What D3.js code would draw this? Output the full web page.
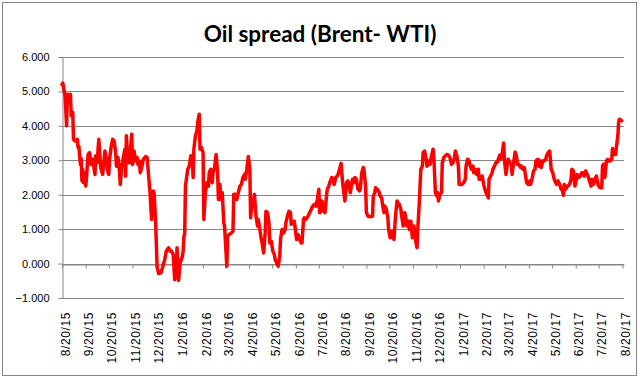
<!DOCTYPE html>
<html>
<head>
<meta charset="utf-8">
<script src="https://cdn.jsdelivr.net/npm/d3@7"></script>
<style>
  body { margin: 0; background: #fff; }
</style>
</head>
<body>
<div id="chart-area"></div>
<script>
// Brent - WTI spread
var dates = [
  "2015-08-20","2015-08-21","2015-08-24","2015-08-26","2015-08-27","2015-08-29","2015-08-31","2015-09-01","2015-09-03","2015-09-04",
  "2015-09-06","2015-09-09","2015-09-10","2015-09-11","2015-09-13","2015-09-14","2015-09-15","2015-09-16","2015-09-17","2015-09-18",
  "2015-09-20","2015-09-21","2015-09-23","2015-09-25","2015-09-27","2015-09-29","2015-09-30","2015-10-02","2015-10-03","2015-10-05",
  "2015-10-06","2015-10-07","2015-10-09","2015-10-10","2015-10-12","2015-10-14","2015-10-15","2015-10-17","2015-10-18","2015-10-20",
  "2015-10-21","2015-10-23","2015-10-25","2015-10-27","2015-10-29","2015-10-30","2015-11-01","2015-11-03","2015-11-04","2015-11-06",
  "2015-11-08","2015-11-10","2015-11-11","2015-11-12","2015-11-14","2015-11-15","2015-11-16","2015-11-18","2015-11-19","2015-11-20",
  "2015-11-22","2015-11-24","2015-11-26","2015-11-27","2015-11-29","2015-11-30","2015-12-02","2015-12-04","2015-12-07","2015-12-09",
  "2015-12-11","2015-12-13","2015-12-14","2015-12-15","2015-12-17","2015-12-18","2015-12-20","2015-12-21","2015-12-22","2015-12-24",
  "2015-12-27","2015-12-29","2016-01-01","2016-01-03","2016-01-06","2016-01-08","2016-01-10","2016-01-12","2016-01-14","2016-01-16",
  "2016-01-17","2016-01-19","2016-01-21","2016-01-24","2016-01-25","2016-01-26","2016-01-27","2016-01-28","2016-01-31","2016-02-02",
  "2016-02-04","2016-02-06","2016-02-07","2016-02-08","2016-02-10","2016-02-12","2016-02-13","2016-02-15","2016-02-16","2016-02-18",
  "2016-02-20","2016-02-21","2016-02-23","2016-02-25","2016-02-27","2016-02-28","2016-03-01","2016-03-03","2016-03-04","2016-03-06",
  "2016-03-08","2016-03-10","2016-03-11","2016-03-13","2016-03-14","2016-03-16","2016-03-18","2016-03-19","2016-03-22","2016-03-23",
  "2016-03-25","2016-03-28","2016-03-30","2016-03-31","2016-04-02","2016-04-04","2016-04-06","2016-04-08","2016-04-10","2016-04-12",
  "2016-04-14","2016-04-15","2016-04-17","2016-04-19","2016-04-21","2016-04-22","2016-04-24","2016-04-25","2016-04-27","2016-04-29",
  "2016-05-01","2016-05-02","2016-05-04","2016-05-06","2016-05-07","2016-05-09","2016-05-11","2016-05-12","2016-05-14","2016-05-16",
  "2016-05-17","2016-05-19","2016-05-21","2016-05-23","2016-05-24","2016-05-26","2016-05-28","2016-05-30","2016-05-31","2016-06-02",
  "2016-06-04","2016-06-06","2016-06-07","2016-06-09","2016-06-11","2016-06-13","2016-06-14","2016-06-16","2016-06-18","2016-06-21",
  "2016-06-23","2016-06-25","2016-06-27","2016-06-28","2016-06-30","2016-07-01","2016-07-03","2016-07-06","2016-07-08","2016-07-10",
  "2016-07-12","2016-07-14","2016-07-16","2016-07-18","2016-07-20","2016-07-21","2016-07-23","2016-07-24","2016-07-26","2016-07-28",
  "2016-07-30","2016-07-31","2016-08-02","2016-08-04","2016-08-06","2016-08-07","2016-08-09","2016-08-11","2016-08-13","2016-08-14",
  "2016-08-16","2016-08-18","2016-08-20","2016-08-21","2016-08-23","2016-08-25","2016-08-27","2016-08-28","2016-08-30","2016-09-01",
  "2016-09-02","2016-09-04","2016-09-05","2016-09-07","2016-09-09","2016-09-11","2016-09-12","2016-09-14","2016-09-16","2016-09-17",
  "2016-09-19","2016-09-20","2016-09-22","2016-09-24","2016-09-26","2016-09-28","2016-09-29","2016-10-01","2016-10-02","2016-10-04",
  "2016-10-06","2016-10-08","2016-10-10","2016-10-11","2016-10-13","2016-10-14","2016-10-16","2016-10-18","2016-10-19","2016-10-21",
  "2016-10-23","2016-10-24","2016-10-26","2016-10-28","2016-10-30","2016-10-31","2016-11-02","2016-11-04","2016-11-05","2016-11-07",
  "2016-11-09","2016-11-10","2016-11-12","2016-11-14","2016-11-15","2016-11-17","2016-11-19","2016-11-21","2016-11-23","2016-11-25",
  "2016-11-26","2016-11-28","2016-11-30","2016-12-02","2016-12-03","2016-12-05","2016-12-07","2016-12-08","2016-12-10","2016-12-12",
  "2016-12-14","2016-12-16","2016-12-17","2016-12-19","2016-12-21","2016-12-22","2016-12-23","2016-12-25","2016-12-27","2016-12-28",
  "2016-12-30","2017-01-01","2017-01-03","2017-01-05","2017-01-07","2017-01-09","2017-01-11","2017-01-13","2017-01-14","2017-01-16",
  "2017-01-18","2017-01-19","2017-01-21","2017-01-23","2017-01-25","2017-01-27","2017-01-28","2017-01-30","2017-02-01","2017-02-02",
  "2017-02-04","2017-02-06","2017-02-07","2017-02-09","2017-02-11","2017-02-13","2017-02-14","2017-02-16","2017-02-18","2017-02-20",
  "2017-02-21","2017-02-23","2017-02-25","2017-02-26","2017-02-27","2017-03-01","2017-03-03","2017-03-04","2017-03-06","2017-03-08",
  "2017-03-10","2017-03-11","2017-03-13","2017-03-14","2017-03-16","2017-03-18","2017-03-19","2017-03-21","2017-03-23","2017-03-24",
  "2017-03-26","2017-03-28","2017-03-29","2017-03-31","2017-04-02","2017-04-04","2017-04-05","2017-04-07","2017-04-09","2017-04-10",
  "2017-04-12","2017-04-14","2017-04-15","2017-04-17","2017-04-19","2017-04-21","2017-04-22","2017-04-24","2017-04-26","2017-04-28",
  "2017-04-29","2017-05-02","2017-05-03","2017-05-05","2017-05-06","2017-05-08","2017-05-10","2017-05-12","2017-05-13","2017-05-15",
  "2017-05-17","2017-05-18","2017-05-19","2017-05-21","2017-05-23","2017-05-25","2017-05-26","2017-05-28","2017-05-30","2017-06-01",
  "2017-06-02","2017-06-04","2017-06-05","2017-06-07","2017-06-09","2017-06-10","2017-06-12","2017-06-14","2017-06-15","2017-06-17",
  "2017-06-19","2017-06-21","2017-06-22","2017-06-24","2017-06-26","2017-06-28","2017-06-29","2017-07-01","2017-07-03","2017-07-04",
  "2017-07-06","2017-07-08","2017-07-10","2017-07-11","2017-07-13","2017-07-15","2017-07-17","2017-07-19","2017-07-20","2017-07-22",
  "2017-07-24","2017-07-25","2017-07-26","2017-07-28","2017-07-29","2017-07-30","2017-08-01","2017-08-02","2017-08-04","2017-08-06",
  "2017-08-07","2017-08-09","2017-08-11","2017-08-12","2017-08-14","2017-08-15","2017-08-16","2017-08-18","2017-08-19"
];

var spread = [
  5.20, 5.24, 4.87, 4.00, 4.92, 4.68, 4.92, 4.29, 4.39, 3.61,
  3.56, 3.61, 3.37, 3.40, 2.88, 3.05, 2.40, 2.74, 2.35, 2.64,
  2.25, 2.50, 3.17, 3.22, 2.88, 3.03, 2.88, 2.59, 3.13, 2.93,
  3.32, 3.61, 2.93, 2.74, 2.59, 3.03, 3.27, 3.03, 2.74, 2.59,
  3.03, 3.37, 3.61, 3.56, 3.22, 2.83, 3.08, 2.69, 2.30, 2.83,
  3.08, 3.32, 2.54, 3.71, 2.93, 3.22, 2.93, 3.51, 3.76, 2.88,
  3.27, 2.98, 3.08, 2.88, 2.98, 2.64, 2.79, 3.03, 3.11, 3.08,
  2.54, 2.01, 1.57, 1.28, 2.11, 2.06, 1.28, 0.60, -0.08, -0.29,
  -0.27, -0.13, 0.12, 0.36, 0.46, 0.36, 0.36, 0.26, -0.47, -0.17,
  0.46, -0.49, 0.02, 0.21, 0.36, 0.80, 0.84, 2.25, 2.74, 2.83,
  3.13, 3.03, 2.50, 3.32, 3.71, 3.85, 4.10, 4.34, 3.32, 3.37,
  3.22, 1.28, 2.06, 2.35, 2.25, 2.64, 2.74, 2.35, 2.64, 2.79,
  3.17, 2.64, 1.86, 2.30, 1.86, 2.06, 1.18, 1.09, -0.08, 0.80,
  0.84, 0.89, 0.94, 2.01, 2.01, 1.86, 2.06, 2.25, 2.30, 2.50,
  2.59, 2.45, 2.74, 3.11, 2.74, 1.33, 1.77, 1.67, 2.01, 1.38,
  1.09, 1.28, 0.99, 0.70, 0.60, 0.31, 0.89, 1.52, 1.48, 1.18,
  0.60, 0.65, 0.36, 0.26, 0.12, 0.02, -0.08, 0.21, 0.70, 0.99,
  0.89, 0.99, 1.18, 1.38, 1.52, 1.48, 1.14, 1.18, 1.23, 0.70,
  0.84, 0.70, 0.60, 0.60, 1.28, 1.33, 1.28, 1.38, 1.48, 1.57,
  1.67, 1.72, 1.67, 1.86, 2.16, 1.48, 1.52, 1.82, 1.57, 1.48,
  1.96, 2.16, 2.25, 2.40, 2.50, 2.45, 2.30, 2.50, 2.54, 2.59,
  2.74, 2.91, 2.35, 2.16, 1.82, 2.35, 2.40, 2.30, 2.06, 2.35,
  2.45, 2.35, 2.50, 2.45, 2.16, 2.11, 2.16, 2.64, 2.79, 2.69,
  2.25, 1.48, 1.38, 1.36, 1.36, 1.38, 1.96, 2.06, 2.20, 2.16,
  2.11, 1.96, 1.91, 1.72, 1.48, 1.67, 1.57, 1.33, 0.99, 0.75,
  0.94, 0.84, 0.70, 1.38, 1.82, 1.77, 1.72, 1.57, 1.38, 1.09,
  1.48, 1.38, 1.09, 1.23, 0.99, 1.23, 0.75, 1.09, 0.70, 0.46,
  0.99, 1.77, 2.74, 2.83, 3.22, 3.27, 3.03, 2.83, 2.98, 2.88,
  3.13, 3.32, 3.08, 2.06, 1.96, 2.06, 1.82, 2.01, 2.06, 2.93,
  3.08, 3.13, 3.17, 3.15, 3.08, 2.88, 2.93, 3.08, 3.27, 3.13,
  2.83, 2.30, 2.30, 2.30, 2.35, 2.45, 2.83, 3.03, 2.98, 2.88,
  2.74, 2.83, 2.64, 2.74, 2.59, 2.74, 2.45, 2.45, 2.54, 2.30,
  2.20, 2.06, 1.96, 1.91, 2.45, 2.54, 2.64, 2.74, 2.83, 2.93,
  2.95, 3.03, 3.15, 3.03, 3.17, 3.50, 3.03, 2.59, 2.93, 3.03,
  2.93, 2.88, 2.59, 2.93, 3.24, 3.08, 2.88, 2.88, 2.79, 2.83,
  2.74, 2.79, 2.64, 2.35, 2.30, 2.40, 2.30, 2.45, 2.69, 2.74,
  2.98, 3.03, 2.83, 2.98, 2.79, 2.98, 2.98, 3.03, 3.13, 3.22,
  3.27, 3.03, 2.74, 2.64, 2.45, 2.35, 2.30, 2.40, 2.30, 2.16,
  2.20, 1.98, 2.30, 2.16, 2.25, 2.25, 2.30, 2.45, 2.74, 2.69,
  2.25, 2.45, 2.59, 2.50, 2.54, 2.64, 2.64, 2.54, 2.69, 2.64,
  2.54, 2.40, 2.25, 2.45, 2.30, 2.45, 2.54, 2.30, 2.25, 2.20,
  2.20, 2.83, 2.88, 2.50, 2.74, 2.98, 3.03, 2.98, 2.98, 3.03,
  3.34, 3.17, 3.17, 3.37, 3.71, 4.10, 4.19, 4.17, 4.15
];

var tickLabels = ["8/20/15", "9/20/15", "10/20/15", "11/20/15", "12/20/15", "1/20/16", "2/20/16",
  "3/20/16", "4/20/16", "5/20/16", "6/20/16", "7/20/16", "8/20/16", "9/20/16", "10/20/16",
  "11/20/16", "12/20/16", "1/20/17", "2/20/17", "3/20/17", "4/20/17", "5/20/17", "6/20/17",
  "7/20/17", "8/20/17"];
var yTicks = [-1, 0, 1, 2, 3, 4, 5, 6];

var W = 640, H = 378;
var margin = { top: 57, left: 62 };
var width = 562;
var height = 241;
var gray = "#868686";

var parseDay = d3.timeParse("%Y-%m-%d");
var parseTick = d3.timeParse("%m/%d/%y");

var data = dates.map((d, i) => ({ date: parseDay(d), value: spread[i] }));
var tickDates = tickLabels.map(parseTick);

var svg = d3.select("#chart-area")
  .append("svg")
  .attr("width", W)
  .attr("height", H)
  .style("font-family", "'DejaVu Sans', Verdana, sans-serif");

svg.append("rect")
  .attr("x", 2.5).attr("y", 2.5)
  .attr("width", 634).attr("height", 373)
  .attr("fill", "#fff")
  .attr("stroke", gray);

svg.append("text")
  .attr("x", 320)
  .attr("y", 42)
  .attr("text-anchor", "middle")
  .style("font-family", "Lato, 'Open Sans', sans-serif")
  .style("font-weight", "bold")
  .style("font-size", "22.5px")
  .text("Oil spread (Brent- WTI)");

var g = svg.append("g")
  .attr("transform", "translate(" + margin.left + ", " + margin.top + ")");

var x = d3.scaleTime()
  .domain([tickDates[0], d3.timeDay.offset(data[data.length - 1].date, 3)])
  .range([0, width]);

var y = d3.scaleLinear()
  .domain([-1, 6])
  .range([height, 0]);

// gridlines
g.selectAll(".grid")
  .data(yTicks)
  .join("line")
  .attr("class", "grid")
  .attr("x1", 0)
  .attr("x2", width)
  .attr("y1", d => Math.round(y(d)) + 0.5)
  .attr("y2", d => Math.round(y(d)) + 0.5)
  .attr("stroke", gray);

var yAxisG = g.append("g")
  .attr("transform", "translate(0.5, 0)")
  .call(d3.axisLeft(y).tickValues(yTicks).tickFormat(d3.format(".3f")).tickSize(4).tickSizeOuter(0).tickPadding(9));

yAxisG.selectAll(".domain, .tick line").attr("stroke", gray);
yAxisG.selectAll("text")
  .style("font-size", "11px")
  .style("fill", "#000");

// category axis crosses at zero
var xAxisG = g.append("g")
  .attr("transform", "translate(0, " + (Math.round(y(0)) + 0.5) + ")")
  .call(d3.axisBottom(x).tickValues(tickDates).tickFormat("").tickSize(4).tickSizeOuter(0));

xAxisG.selectAll(".domain, .tick line").attr("stroke", gray);

var xLabelG = g.append("g")
  .attr("transform", "translate(0, " + (height + 14) + ")")
  .call(d3.axisBottom(x).tickValues(tickDates).tickFormat((d, i) => tickLabels[i]).tickSize(0));

xLabelG.select(".domain").remove();
xLabelG.selectAll("text")
  .attr("transform", "rotate(-90)")
  .attr("text-anchor", "end")
  .attr("x", 0)
  .attr("y", 3)
  .attr("dy", "0.35em")
  .style("font-size", "12px")
  .style("letter-spacing", "0.6px")
  .style("fill", "#000");

var line = d3.line()
  .x(d => x(d.date))
  .y(d => y(d.value));

g.append("path")
  .datum(data)
  .attr("fill", "none")
  .attr("stroke", "#ff0000")
  .attr("stroke-width", 3.5)
  .attr("stroke-linejoin", "round")
  .attr("stroke-linecap", "round")
  .attr("d", line);
</script>
</body>
</html>
